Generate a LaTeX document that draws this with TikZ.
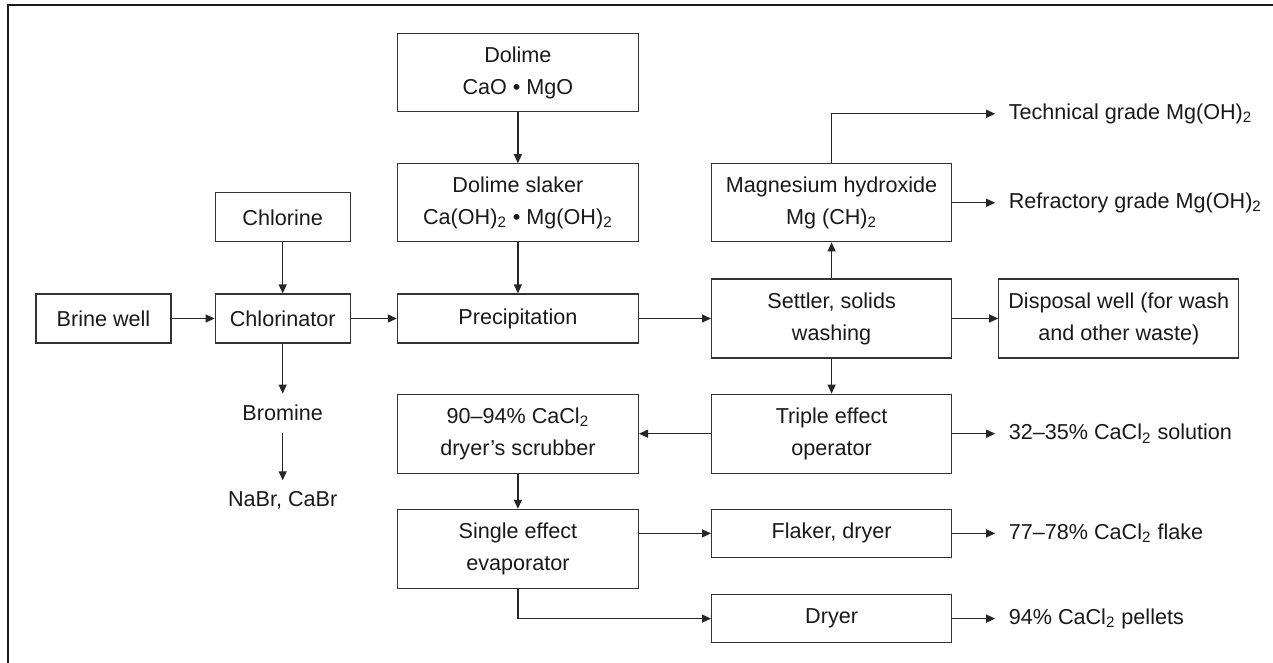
\documentclass[tikz,border=0pt]{standalone}
\usepackage{fontspec}
\setmainfont{Liberation Sans}
\usetikzlibrary{arrows.meta, positioning}

\begin{document}
\begin{tikzpicture}[
  >={Triangle[length=4.5pt,width=4pt]},
  line width=0.6pt, draw=black!85,
  font=\fontsize{10.8}{16}\selectfont,
  unit/.style={draw=black!80, rectangle, inner sep=0pt, align=center, text=black!90},
  product/.style={inner xsep=6.5pt, inner ysep=3pt, anchor=west, text=black!90},
  stage/.style={inner xsep=2pt, inner ysep=5.5pt, text=black!90},
  frame/.style={line width=1.3pt, draw=black!90}
]
  \useasboundingbox (0,0) rectangle (636.5pt,-331.5pt);

  % Page frame
  \coordinate (framebl) at (4pt,-331.5pt);
  \coordinate (frametr) at (636.5pt,-2.5pt);
  \draw[frame] (framebl) |- (frametr);

  % Main row: brine to disposal
  \node[unit, minimum width=67.5pt, minimum height=24.5pt] (brine) at (51.75pt,-159.25pt) {Brine well};
  \node[unit, minimum width=67.5pt, minimum height=24.5pt, right=21.5pt of brine] (chlorinator) {Chlorinator};
  \node[unit, minimum width=120.5pt, minimum height=24.5pt, right=23pt of chlorinator] (precip) {Precipitation};
  \node[unit, minimum width=120pt, minimum height=39.5pt, right=36pt of precip] (settler) {Settler, solids\\washing};
  \node[unit, minimum width=120pt, minimum height=39.5pt, right=23pt of settler] (disposal) {Disposal well (for wash\\and other waste)};

  % Feeds from above
  \node[unit, minimum width=67.5pt, minimum height=24.5pt, above=25.5pt of chlorinator] (chlorine) {Chlorine};
  \node[unit, minimum width=120.5pt, minimum height=39pt, above=25.5pt of precip] (slaker) {Dolime slaker\\Ca(OH)\textsubscript{2} • Mg(OH)\textsubscript{2}};
  \node[unit, minimum width=120.5pt, minimum height=39pt, above=25.5pt of slaker] (dolime) {Dolime\\CaO • MgO};
  \node[unit, minimum width=120pt, minimum height=39pt, above=18pt of settler] (mgoh) {Magnesium hydroxide\\Mg (CH)\textsubscript{2}};

  % Bromine branch
  \node[stage, below=25pt of chlorinator] (bromine) {Bromine};
  \node[stage, below=23.8pt of bromine] (nabr) {NaBr, CaBr};

  % Calcium chloride section
  \node[unit, minimum width=120pt, minimum height=39.5pt, below=17.5pt of settler] (triple) {Triple effect\\operator};
  \node[unit, minimum width=120.5pt, minimum height=39.5pt, left=36pt of triple] (scrubber) {90–94\% CaCl\textsubscript{2}\\dryer’s scrubber};
  \node[unit, minimum width=120.5pt, minimum height=39.5pt, below=17.5pt of scrubber] (single) {Single effect\\evaporator};
  \node[unit, minimum width=120pt, minimum height=24pt, below=17.5pt of triple] (flaker) {Flaker, dryer};
  \node[unit, minimum width=120pt, minimum height=24pt, below=18pt of flaker] (dryer) {Dryer};

  % Products
  \node[product, right=21.5pt of mgoh] (refractory) {Refractory grade Mg(OH)\textsubscript{2}};
  \node[product] (technical) at ([yshift=44.5pt]refractory.west) {Technical grade Mg(OH)\textsubscript{2}};
  \node[product, right=21.5pt of triple] (solution) {32–35\% CaCl\textsubscript{2} solution};
  \node[product, right=21.5pt of flaker] (flake) {77–78\% CaCl\textsubscript{2} flake};
  \node[product, right=21.5pt of dryer] (pellets) {94\% CaCl\textsubscript{2} pellets};

  % Connections
  \draw[->] (dolime) -- (slaker);
  \draw[->] (slaker) -- (precip);
  \draw[->] (chlorine) -- (chlorinator);
  \draw[->] (brine) -- (chlorinator);
  \draw[->] (chlorinator) -- (precip);
  \draw[->] (chlorinator) -- (bromine);
  \draw[->] (bromine) -- (nabr);
  \draw[->] (precip) -- (settler);
  \draw[->] (settler) -- (mgoh);
  \draw[->] (settler) -- (disposal);
  \draw[->] (settler) -- (triple);
  \draw[->] (mgoh.north) |- (technical);
  \draw[->] (mgoh) -- (refractory);
  \draw[->] (triple) -- (scrubber);
  \draw[->] (triple) -- (solution);
  \draw[->] (scrubber) -- (single);
  \draw[->] (single.east |- flaker) -- (flaker);
  \draw[->] (flaker) -- (flake);
  \draw[->] (single) |- (dryer);
  \draw[->] (dryer) -- (pellets);

\end{tikzpicture}
\end{document}
